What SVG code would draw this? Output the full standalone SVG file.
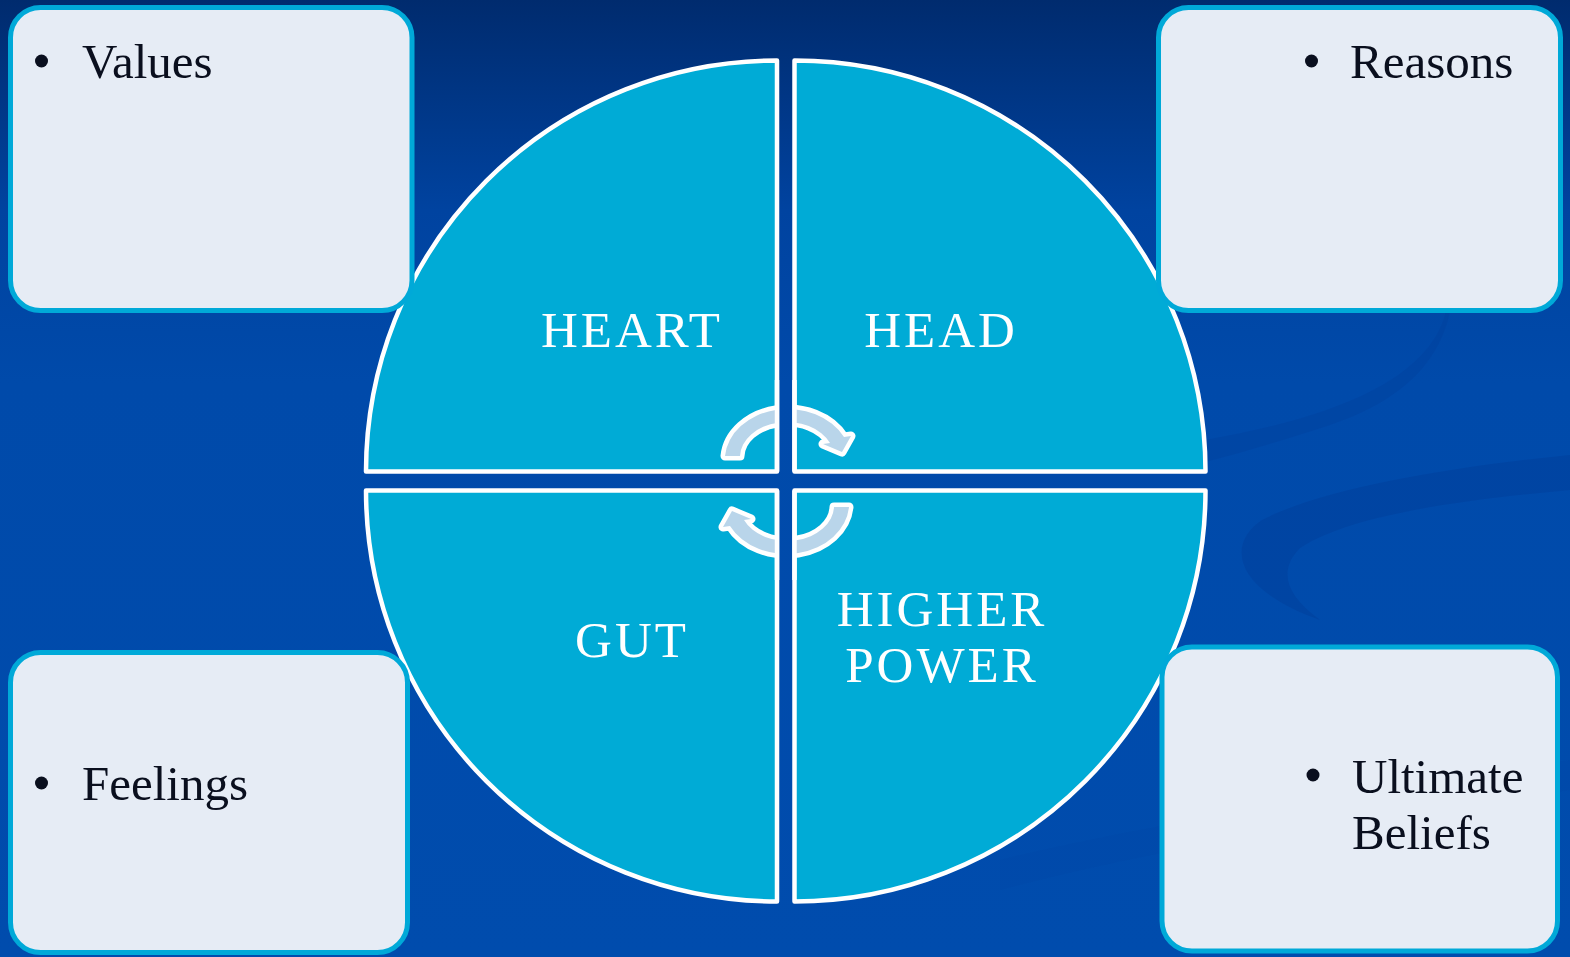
<svg xmlns="http://www.w3.org/2000/svg" width="1570" height="957" viewBox="0 0 1570 957">
  <defs>
    <linearGradient id="bg" x1="0" y1="0" x2="0" y2="1">
      <stop offset="0" stop-color="#002B6E"/>
      <stop offset="0.22" stop-color="#0043A0"/>
      <stop offset="0.4" stop-color="#004AAA"/>
      <stop offset="1" stop-color="#004CAD"/>
    </linearGradient>
    <clipPath id="pieClip">
      <path d="M777,471.5 L366,471.5 A411,411 0 0 1 777,60.5 Z"/>
      <path d="M794.5,471.5 L794.5,60.5 A411,411 0 0 1 1205.5,471.5 Z"/>
      <path d="M777,490.5 L777,901.5 A411,411 0 0 1 366,490.5 Z"/>
      <path d="M794.5,490.5 L1205.5,490.5 A411,411 0 0 1 794.5,901.5 Z"/>
    </clipPath>
    <path id="arrowTop" d="M725,456 A63,51 0 0 1 844,437 L851,436 L842,452 L823,444 L830,443 A47,35 0 0 0 740,456 Z"/>
  </defs>
  <style>
    .quarter { fill: #00ABD6; stroke: #FFFFFF; stroke-width: 4.5; stroke-linejoin: round; }
    .qline { fill: none; stroke: #FFFFFF; stroke-width: 4.5; stroke-linejoin: round; }
    .qlabel { font-family: "Liberation Serif", "Times New Roman", serif; font-size: 51px; fill: #FFFFFF; text-anchor: middle; letter-spacing: 3px; }
    .box { fill: #E6ECF5; stroke: #00A9D8; stroke-width: 5; }
    .btext { font-family: "Liberation Serif", "Times New Roman", serif; font-size: 49px; fill: #0A0F1E; }
    .bullet { fill: #0A0F1E; }
    .arrow { fill: #B9D5EA; stroke: #FFFFFF; stroke-width: 9; stroke-linejoin: round; paint-order: stroke fill; }
  </style>

  <!-- background -->
  <rect x="0" y="0" width="1570" height="957" fill="url(#bg)"/>
  <path d="M1205,440 C1320,420 1425,385 1445,315 L1452,262 C1460,340 1420,395 1330,425 C1290,438 1245,452 1205,462 Z" fill="#003F9A" opacity="0.35"/>
  <path d="M1570,455 C1440,468 1320,490 1262,520 C1225,545 1235,590 1320,620 C1285,595 1278,570 1300,548 C1350,515 1460,500 1570,490 Z" fill="#003F9A" opacity="0.45"/>
  <path d="M1000,860 C1120,830 1300,800 1570,760 L1570,790 C1330,820 1150,850 1000,890 Z" fill="#003F9A" opacity="0.12"/>

  <!-- quarters -->
  <g id="heart">
    <path class="quarter" d="M777,471.5 L366,471.5 A411,411 0 0 1 777,60.5 Z"/>
    <text class="qlabel" x="632" y="347">HEART</text>
  </g>
  <g id="head">
    <path class="quarter" d="M794.5,471.5 L794.5,60.5 A411,411 0 0 1 1205.5,471.5 Z"/>
    <text class="qlabel" x="941" y="347">HEAD</text>
  </g>
  <g id="gut">
    <path class="quarter" d="M777,490.5 L777,901.5 A411,411 0 0 1 366,490.5 Z"/>
    <text class="qlabel" x="632" y="657">GUT</text>
  </g>
  <g id="higher-power">
    <path class="quarter" d="M794.5,490.5 L1205.5,490.5 A411,411 0 0 1 794.5,901.5 Z"/>
    <text class="qlabel" x="942" y="626">HIGHER</text>
    <text class="qlabel" x="942" y="682">POWER</text>
  </g>

  <!-- cycle arrows -->
  <g id="connectors">
    <g clip-path="url(#pieClip)">
      <use href="#arrowTop" class="arrow"/>
      <use href="#arrowTop" class="arrow" transform="rotate(180 787 481.5)"/>
    </g>
    <line class="qline" x1="777" y1="380" x2="777" y2="471.5"/>
    <line class="qline" x1="794.5" y1="380" x2="794.5" y2="471.5"/>
    <line class="qline" x1="777" y1="490.5" x2="777" y2="580"/>
    <line class="qline" x1="794.5" y1="490.5" x2="794.5" y2="580"/>
  </g>

  <!-- boxes -->
  <g id="values">
    <rect class="box" x="10.5" y="7.5" width="401.5" height="303" rx="30" ry="30"/>
    <circle class="bullet" cx="41.5" cy="61" r="6.5"/>
    <text class="btext" x="82" y="78">Values</text>
  </g>
  <g id="reasons">
    <rect class="box" x="1158.5" y="7.5" width="402" height="303" rx="30" ry="30"/>
    <circle class="bullet" cx="1311.5" cy="61" r="6.5"/>
    <text class="btext" x="1350" y="78">Reasons</text>
  </g>
  <g id="feelings">
    <rect class="box" x="10.5" y="652.5" width="397" height="300" rx="30" ry="30"/>
    <circle class="bullet" cx="41.5" cy="783" r="6.5"/>
    <text class="btext" x="82" y="800">Feelings</text>
  </g>
  <g id="ultimate-beliefs">
    <rect class="box" x="1162" y="647" width="395.5" height="304" rx="30" ry="30"/>
    <circle class="bullet" cx="1313" cy="775" r="6.5"/>
    <text class="btext" x="1352" y="793">Ultimate</text>
    <text class="btext" x="1352" y="849">Beliefs</text>
  </g>
</svg>
